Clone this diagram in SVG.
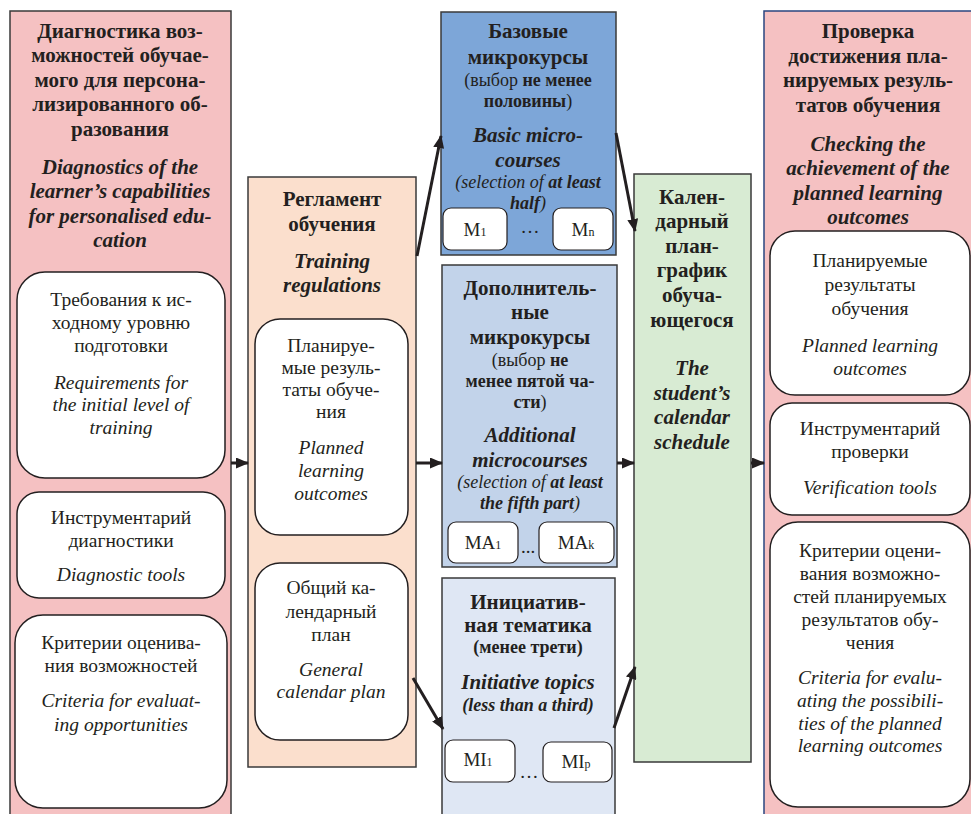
<svg xmlns="http://www.w3.org/2000/svg" width="971" height="814" viewBox="0 0 971 814">
<style>
text{font-family:'Liberation Serif','Times New Roman',serif;fill:#231f20;text-anchor:middle}
.t{font-size:21px;font-weight:bold}
.ti{font-size:21px;font-weight:bold;font-style:italic}
.r{font-size:19.5px}
.ri{font-size:19.5px;font-style:italic}
.s{font-size:18px}
.si{font-size:18px;font-style:italic}
.b{font-weight:bold}
.m{font-size:19px}
.sub{font-size:12px}
.inner{fill:#fff;stroke:#231f20;stroke-width:1.5}
.small{fill:#fff;stroke:#231f20;stroke-width:1.2}
.conn{stroke:#231f20;stroke-width:3;fill:none;marker-end:url(#ah)}
</style>
<defs>
<marker id="ah" markerUnits="userSpaceOnUse" markerWidth="13" markerHeight="11" refX="12" refY="5.5" orient="auto">
<path d="M0,0 L13,5.5 L0,11 z" fill="#231f20"/>
</marker>
</defs>
<rect width="971" height="814" fill="#fff"/>

<g id="diagnostics">
<rect x="10" y="11" width="221" height="820" fill="#f5c1c2" stroke="#3a3a3a" stroke-width="1.5"/>
<text class="t" x="120" y="38">Диагностика воз-</text>
<text class="t" x="120" y="62">можностей обучае-</text>
<text class="t" x="120" y="87">мого для персона-</text>
<text class="t" x="120" y="111">лизированного об-</text>
<text class="t" x="120" y="136">разования</text>
<text class="ti" x="120" y="174">Diagnostics of the</text>
<text class="ti" x="120" y="198">learner’s capabilities</text>
<text class="ti" x="120" y="223">for personalised edu-</text>
<text class="ti" x="120" y="247">cation</text>
</g>
<g id="requirements">
<rect class="inner" x="17" y="272" width="208" height="206" rx="28"/>
<text class="r" x="121" y="306">Требования к ис-</text>
<text class="r" x="121" y="329">ходному уровню</text>
<text class="r" x="121" y="352">подготовки</text>
<text class="ri" x="121" y="389">Requirements for</text>
<text class="ri" x="121" y="411">the initial level of</text>
<text class="ri" x="121" y="434">training</text>
</g>
<g id="diag-tools">
<rect class="inner" x="17" y="492" width="208" height="106" rx="22"/>
<text class="r" x="121" y="524">Инструментарий</text>
<text class="r" x="121" y="547">диагностики</text>
<text class="ri" x="121" y="581">Diagnostic tools</text>
</g>
<g id="diag-criteria">
<rect class="inner" x="15" y="615" width="212" height="193" rx="28"/>
<text class="r" x="121" y="649">Критерии оценива-</text>
<text class="r" x="121" y="672">ния возможностей</text>
<text class="ri" x="121" y="707">Criteria for evaluat-</text>
<text class="ri" x="121" y="731">ing opportunities</text>
</g>

<g id="regulations">
<rect x="248" y="177" width="168" height="590" fill="#fbdfcd" stroke="#3a3a3a" stroke-width="1.5"/>
<text class="t" x="332" y="206">Регламент</text>
<text class="t" x="332" y="231">обучения</text>
<text class="ti" x="332" y="268">Training</text>
<text class="ti" x="332" y="292">regulations</text>
</g>
<g id="reg-outcomes">
<rect class="inner" x="255" y="319" width="153" height="216" rx="25"/>
<text class="r" x="331" y="352">Планируе-</text>
<text class="r" x="331" y="374">мые резуль-</text>
<text class="r" x="331" y="396">таты обуче-</text>
<text class="r" x="331" y="418">ния</text>
<text class="ri" x="331" y="454">Planned</text>
<text class="ri" x="331" y="477">learning</text>
<text class="ri" x="331" y="500">outcomes</text>
</g>
<g id="reg-calendar">
<rect class="inner" x="255" y="563" width="153" height="177" rx="25"/>
<text class="r" x="331" y="594">Общий ка-</text>
<text class="r" x="331" y="618">лендарный</text>
<text class="r" x="331" y="641">план</text>
<text class="ri" x="331" y="676">General</text>
<text class="ri" x="331" y="698">calendar plan</text>
</g>

<g id="basic">
<rect x="441" y="12" width="175" height="243" fill="#7da6d8" stroke="#3a3a3a" stroke-width="1.5"/>
<text class="t" x="528" y="38">Базовые</text>
<text class="t" x="528" y="64">микрокурсы</text>
<text class="s" x="528" y="86">(выбор <tspan class="b">не менее</tspan></text>
<text class="s" x="528" y="107"><tspan class="b">половины</tspan>)</text>
<text class="ti" x="528" y="142">Basic micro-</text>
<text class="ti" x="528" y="167">courses</text>
<text class="si" x="528" y="188">(selection of <tspan class="b">at least</tspan></text>
<text class="si" x="528" y="209"><tspan class="b">half</tspan>)</text>
<rect class="small" x="443" y="208" width="64" height="42" rx="8"/>
<text class="m" x="475" y="236">M<tspan class="sub">1</tspan></text>
<text class="m" x="530" y="233">…</text>
<rect class="small" x="553" y="208" width="60" height="42" rx="8"/>
<text class="m" x="583" y="236">M<tspan class="sub">n</tspan></text>
</g>

<g id="additional">
<rect x="442" y="265" width="175" height="302" fill="#c2d3ea" stroke="#3a3a3a" stroke-width="1.5"/>
<text class="t" x="530" y="295">Дополнитель-</text>
<text class="t" x="530" y="319">ные</text>
<text class="t" x="530" y="344">микрокурсы</text>
<text class="s" x="530" y="366">(выбор <tspan class="b">не</tspan></text>
<text class="s b" x="530" y="387">менее пятой ча-</text>
<text class="s" x="530" y="408"><tspan class="b">сти</tspan>)</text>
<text class="ti" x="530" y="442">Additional</text>
<text class="ti" x="530" y="467">microcourses</text>
<text class="si" x="530" y="488">(selection of <tspan class="b">at least</tspan></text>
<text class="si" x="530" y="509"><tspan class="b">the fifth part</tspan>)</text>
<rect class="small" x="448" y="522" width="70" height="41" rx="8"/>
<text class="m" x="483" y="549">MA<tspan class="sub">1</tspan></text>
<text class="m" x="528" y="553">...</text>
<rect class="small" x="539" y="522" width="75" height="41" rx="8"/>
<text class="m" x="576" y="549">MA<tspan class="sub">k</tspan></text>
</g>

<g id="initiative">
<rect x="442" y="578" width="173" height="260" fill="#dfe7f4" stroke="#3a3a3a" stroke-width="1.5"/>
<text class="t" x="528" y="609">Инициатив-</text>
<text class="t" x="528" y="632">ная тематика</text>
<text class="s b" x="528" y="653">(менее трети)</text>
<text class="ti" x="528" y="689">Initiative topics</text>
<text class="si b" x="528" y="711">(less than a third)</text>
<rect class="small" x="445" y="740" width="70" height="42" rx="8"/>
<text class="m" x="478" y="766">MI<tspan class="sub">1</tspan></text>
<text class="m" x="529" y="778">…</text>
<rect class="small" x="543" y="742" width="69" height="40" rx="8"/>
<text class="m" x="576" y="768">MI<tspan class="sub">p</tspan></text>
</g>

<g id="schedule">
<rect x="634" y="174" width="117" height="588" fill="#d8ebd3" stroke="#3a3a3a" stroke-width="1.5"/>
<text class="t" x="692" y="204">Кален-</text>
<text class="t" x="692" y="228">дарный</text>
<text class="t" x="692" y="253">план-</text>
<text class="t" x="692" y="277">график</text>
<text class="t" x="692" y="302">обуча-</text>
<text class="t" x="692" y="327">ющегося</text>
<text class="ti" x="692" y="375">The</text>
<text class="ti" x="692" y="400">student’s</text>
<text class="ti" x="692" y="424">calendar</text>
<text class="ti" x="692" y="449">schedule</text>
</g>

<g id="checking">
<rect x="764" y="11" width="230" height="830" fill="#f5c1c2" stroke="#2a4580" stroke-width="1.5"/>
<text class="t" x="868" y="38">Проверка</text>
<text class="t" x="868" y="63">достижения пла-</text>
<text class="t" x="868" y="87">нируемых резуль-</text>
<text class="t" x="868" y="112">татов обучения</text>
<text class="ti" x="868" y="151">Checking the</text>
<text class="ti" x="868" y="175">achievement of the</text>
<text class="ti" x="868" y="200">planned learning</text>
<text class="ti" x="868" y="224">outcomes</text>
</g>
<g id="chk-outcomes">
<rect class="inner" x="770" y="231" width="200" height="164" rx="25"/>
<text class="r" x="870" y="267">Планируемые</text>
<text class="r" x="870" y="291">результаты</text>
<text class="r" x="870" y="315">обучения</text>
<text class="ri" x="870" y="352">Planned learning</text>
<text class="ri" x="870" y="375">outcomes</text>
</g>
<g id="chk-tools">
<rect class="inner" x="770" y="403" width="200" height="112" rx="22"/>
<text class="r" x="870" y="435">Инструментарий</text>
<text class="r" x="870" y="458">проверки</text>
<text class="ri" x="870" y="494">Verification tools</text>
</g>
<g id="chk-criteria">
<rect class="inner" x="770" y="522" width="200" height="285" rx="28"/>
<text class="r" x="870" y="557">Критерии оцени-</text>
<text class="r" x="870" y="580">вания возможно-</text>
<text class="r" x="870" y="603">стей планируемых</text>
<text class="r" x="870" y="626">результатов обу-</text>
<text class="r" x="870" y="649">чения</text>
<text class="ri" x="870" y="684">Criteria for evalu-</text>
<text class="ri" x="870" y="707">ating the possibili-</text>
<text class="ri" x="870" y="730">ties of the planned</text>
<text class="ri" x="870" y="752">learning outcomes</text>
</g>

<g id="connectors">
<line class="conn" x1="231" y1="463" x2="248" y2="463"/>
<line class="conn" x1="416" y1="463" x2="442" y2="463"/>
<line class="conn" x1="617" y1="463" x2="634" y2="463"/>
<line class="conn" x1="751" y1="463" x2="764" y2="463"/>
<line class="conn" x1="417" y1="256" x2="441" y2="136"/>
<line class="conn" x1="616" y1="133" x2="635" y2="231"/>
<line class="conn" x1="413" y1="678" x2="443" y2="729"/>
<line class="conn" x1="614" y1="728" x2="635" y2="667"/>
</g>
</svg>
